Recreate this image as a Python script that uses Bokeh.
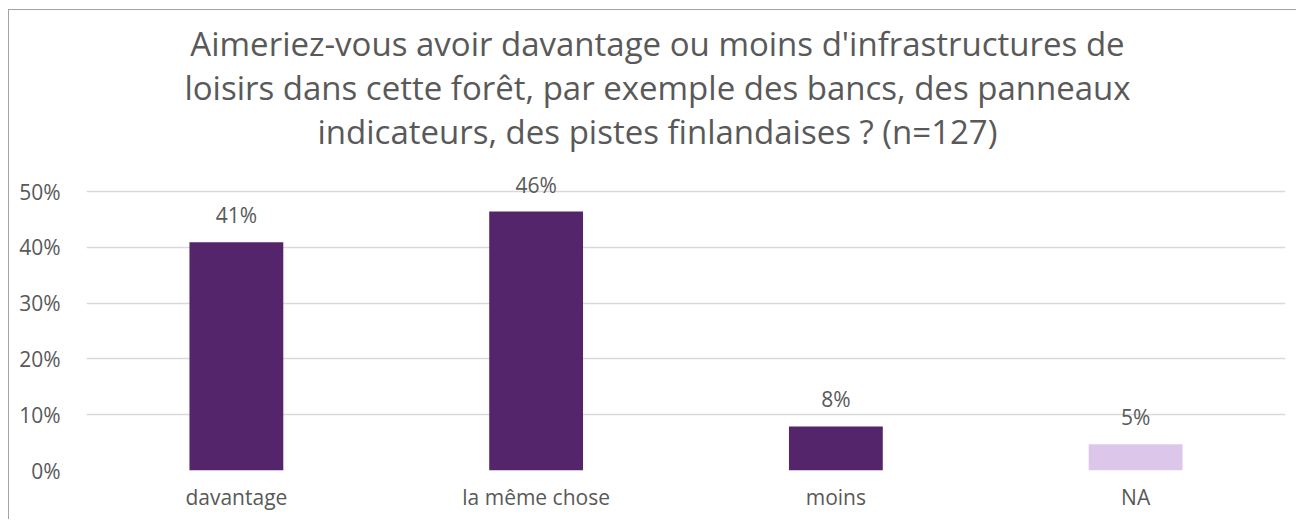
from bokeh.plotting import figure
from bokeh.models import ColumnDataSource, FixedTicker, NumeralTickFormatter, Range1d, Label, LabelSet
from bokeh.embed import file_html
from bokeh.resources import INLINE
from bokeh.core.properties import value

categories = ["davantage", "la même chose", "moins", "NA"]
shares = [0.409, 0.464, 0.079, 0.047]
colors = ["#55256b", "#55256b", "#55256b", "#dcc7ea"]
labels = [f"{round(v * 100)}%" for v in shares]
title_lines = [
    "Aimeriez-vous avoir davantage ou moins d'infrastructures de",
    "loisirs dans cette forêt, par exemple des bancs, des panneaux",
    "indicateurs, des pistes finlandaises ? (n=127)",
]
y_ticks = [0, 0.1, 0.2, 0.3, 0.4, 0.5]

FONT = "Open Sans"
GREY = "#595959"

src = ColumnDataSource(dict(cat=categories, v=shares, c=colors, lab=labels))

# frame spans the full height so the title (drawn as labels) is not clipped;
# the 0-50% scale occupies the lower 279 px of the 460 px frame
p = figure(x_range=categories, y_range=Range1d(0, 0.5 * 460 / 279), width=1288, height=510,
           output_backend="svg", toolbar_location=None,
           min_border_left=77, min_border_right=12, min_border_top=0, min_border_bottom=50)
p.styles = {"margin-left": "8px", "margin-top": "9px",
            "border-left": "1px solid #a3a3a3", "border-top": "1px solid #a3a3a3"}

for i, line in enumerate(title_lines):
    p.add_layout(Label(x=571, y=427 - 44 * i, x_units="screen", y_units="screen", text=line,
                       text_align="center", text_baseline="middle", text_font=FONT,
                       text_font_size="33px", text_color=GREY))

p.vbar(x="cat", top="v", width=0.313, fill_color="c", line_color=None, source=src)
p.add_layout(LabelSet(x="cat", y="v", text="lab", source=src, text_align="center",
                      text_baseline="alphabetic", y_offset=19, text_font=value(FONT),
                      text_font_size=value("21px"), text_color=value(GREY)))

p.yaxis.ticker = FixedTicker(ticks=y_ticks)
p.yaxis.formatter = NumeralTickFormatter(format="0%")
for ax in (p.xaxis, p.yaxis):
    ax.axis_line_color = None
    ax.major_tick_line_color = None
    ax.minor_tick_line_color = None
    ax.major_label_text_font = FONT
    ax.major_label_text_color = GREY
    ax.major_label_text_font_size = "21px"
p.yaxis.major_label_standoff = 20
p.xaxis.major_label_standoff = 6
p.xgrid.grid_line_color = None
p.ygrid.grid_line_color = "#d9d9d9"
p.ygrid.grid_line_width = 1.5
p.outline_line_color = None
p.x_range.range_padding = 0

open("out.html", "w").write(file_html(p, INLINE))
